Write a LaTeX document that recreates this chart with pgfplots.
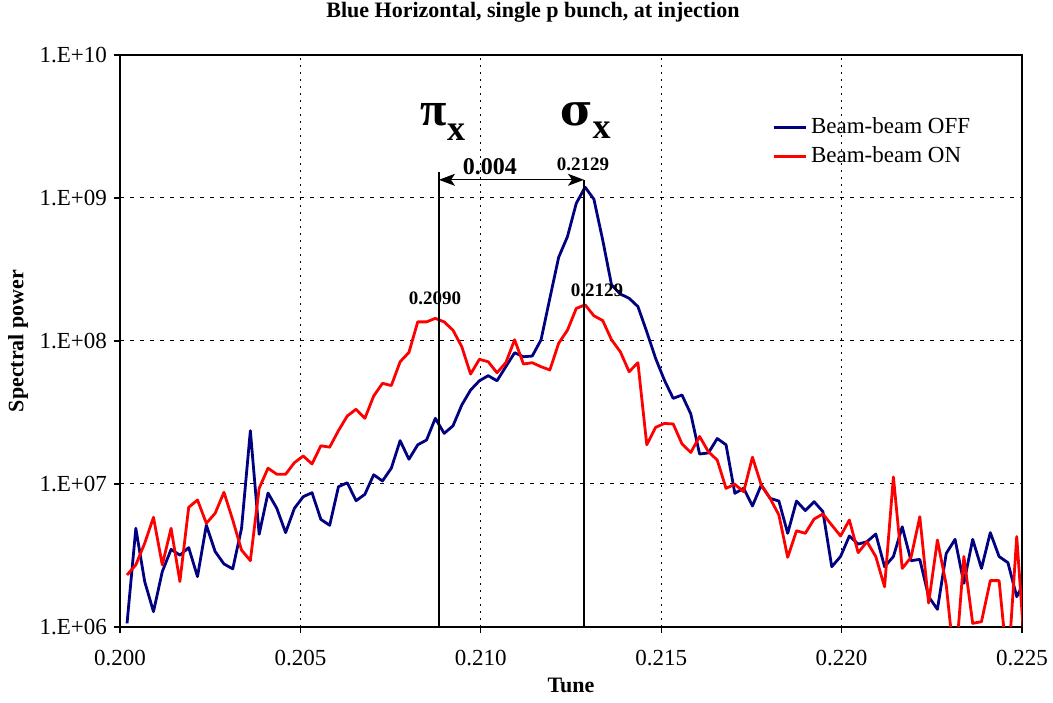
\documentclass[border=0pt]{standalone}
\usepackage{pgfplots}
\pgfplotsset{compat=1.18}
\usepackage{pgfplotstable}
\usepackage{fontspec}
\setmainfont{Liberation Serif}
\newfontfamily\greekfont{DejaVu Serif}
\usetikzlibrary{arrows.meta}
\definecolor{navyblue}{RGB}{0,0,128}
\definecolor{pureRed}{RGB}{255,0,0}

\pgfplotstableread{
x off on
0.200195 1.06e6 2.31e6
0.200439 4.90e6 2.72e6
0.200684 2.08e6 3.85e6
0.200928 1.28e6 5.85e6
0.201172 2.44e6 2.72e6
0.201416 3.49e6 4.90e6
0.201660 3.18e6 2.08e6
0.201904 3.59e6 6.87e6
0.202148 2.25e6 7.73e6
0.202393 5.16e6 5.31e6
0.202637 3.37e6 6.24e6
0.202881 2.76e6 8.75e6
0.203125 2.55e6 5.60e6
0.203369 4.90e6 3.45e6
0.203613 2.36e7 2.91e6
0.203857 4.45e6 9.33e6
0.204102 8.65e6 1.29e7
0.204346 6.76e6 1.17e7
0.204590 4.57e6 1.17e7
0.204834 6.76e6 1.41e7
0.205078 8.15e6 1.57e7
0.205322 8.69e6 1.38e7
0.205566 5.66e6 1.85e7
0.205811 5.14e6 1.81e7
0.206055 9.57e6 2.36e7
0.206299 1.02e7 2.99e7
0.206543 7.64e6 3.33e7
0.206787 8.47e6 2.88e7
0.207031 1.16e7 4.12e7
0.207275 1.05e7 5.06e7
0.207520 1.29e7 4.88e7
0.207764 2.01e7 7.16e7
0.208008 1.49e7 8.32e7
0.208252 1.88e7 1.36e8
0.208496 2.03e7 1.36e8
0.208740 2.88e7 1.44e8
0.208984 2.26e7 1.36e8
0.209229 2.55e7 1.19e8
0.209473 3.57e7 9.12e7
0.209717 4.54e7 5.87e7
0.209961 5.27e7 7.45e7
0.210205 5.72e7 7.16e7
0.210449 5.27e7 6.00e7
0.210693 6.61e7 7.05e7
0.210938 8.28e7 1.02e8
0.211182 7.76e7 6.90e7
0.211426 7.85e7 7.05e7
0.211670 1.02e8 6.61e7
0.211914 1.99e8 6.27e7
0.212158 3.85e8 9.64e7
0.212402 5.37e8 1.19e8
0.212646 9.18e8 1.69e8
0.212891 1.19e9 1.79e8
0.213135 9.80e8 1.50e8
0.213379 5.08e8 1.39e8
0.213623 2.47e8 1.02e8
0.213867 2.13e8 8.41e7
0.214111 1.99e8 6.10e7
0.214355 1.74e8 7.05e7
0.214600 1.16e8 1.88e7
0.214844 7.57e7 2.49e7
0.215088 5.33e7 2.65e7
0.215332 3.97e7 2.63e7
0.215576 4.19e7 1.91e7
0.215820 3.09e7 1.66e7
0.216064 1.62e7 2.15e7
0.216309 1.65e7 1.68e7
0.216553 2.08e7 1.47e7
0.216797 1.88e7 9.33e6
0.217041 8.61e6 9.95e6
0.217285 9.33e6 8.83e6
0.217529 7.02e6 1.54e7
0.217773 9.84e6 9.84e6
0.218018 7.94e6 7.94e6
0.218262 7.60e6 6.07e6
0.218506 4.52e6 3.07e6
0.218750 7.60e6 4.71e6
0.218994 6.52e6 4.52e6
0.219238 7.52e6 5.69e6
0.219482 6.41e6 6.17e6
0.219727 2.64e6 5.16e6
0.219971 3.11e6 4.33e6
0.220215 4.33e6 5.60e6
0.220459 3.80e6 3.31e6
0.220703 3.95e6 3.95e6
0.220947 4.47e6 3.11e6
0.221191 2.64e6 1.91e6
0.221436 3.11e6 1.12e7
0.221680 5.02e6 2.57e6
0.221924 2.91e6 3.07e6
0.222168 2.97e6 5.90e6
0.222412 1.63e6 1.47e6
0.222656 1.33e6 4.06e6
0.222900 3.27e6 1.97e6
0.223145 4.10e6 5.0e5
0.223389 2.02e6 3.11e6
0.223633 4.10e6 1.06e6
0.223877 2.57e6 1.09e6
0.224121 4.57e6 2.11e6
0.224365 3.11e6 2.11e6
0.224609 2.82e6 5.0e5
0.224854 1.63e6 4.29e6
0.225098 2.15e6 5.6e5
}\datatable

\begin{document}
\begin{tikzpicture}
\useasboundingbox (-60pt,-37.5pt) rectangle (466.5pt,313.5pt);
\begin{axis}[
  at={(0,0)}, anchor=south west,
  scale only axis, width=451pt, height=286pt,
  xmin=0.2, xmax=0.225, ymin=1e6, ymax=1e10,
  ymode=log,
  xtick={0.200,0.205,0.210,0.215,0.220,0.225},
  xticklabels={0.200,0.205,0.210,0.215,0.220,0.225},
  ytick={1e6,1e7,1e8,1e9,1e10},
  yticklabels={1.E+06,1.E+07,1.E+08,1.E+09,1.E+10},
  yminorticks=false, xminorticks=false,
  tick align=outside, tick pos=left,
  major tick length=3pt,
  tick style={black, line width=0.6pt},
  ticklabel style={font=\fontsize{11.5}{13}\selectfont},
  xticklabel style={yshift=-5pt},
  grid=major,
  major x grid style={black, line width=0.5pt, dash pattern=on 1pt off 2.5pt},
  major y grid style={black, line width=0.5pt, dash pattern=on 2pt off 3pt},
  axis line style={black, line width=0.9pt},
  clip=true,
  legend style={draw=none, fill=none, at={(0.716,0.905)}, anchor=north west,
    font=\fontsize{11.5}{13}\selectfont, row sep=1pt,
    legend cell align=left},
  legend image code/.code={\draw[#1] (0pt,0pt) -- (16pt,0pt);},
]
\addplot[navyblue, line width=1.4pt, line join=round] table[x=x, y=off] {\datatable};
\addlegendentry{Beam-beam OFF}
\addplot[pureRed, line width=1.4pt, line join=round] table[x=x, y=on] {\datatable};
\addlegendentry{Beam-beam ON}

% annotation lines
\draw[black, line width=0.6pt] (axis cs:0.20884,1e6) -- (axis cs:0.20884,1.51e9);
\draw[black, line width=0.6pt] (axis cs:0.21286,1e6) -- (axis cs:0.21286,1.34e9);
\draw[black, line width=0.6pt, {Stealth[length=8pt,width=6pt,inset=2pt]}-{Stealth[length=8pt,width=6pt,inset=2pt]}]
  (axis cs:0.20884,1.34e9) -- (axis cs:0.21286,1.34e9);
\node[font=\fontsize{12}{14}\selectfont\bfseries, anchor=base] at (axis cs:0.21025,1.45e9) {0.004};
\node[font=\fontsize{9.5}{11}\selectfont\bfseries, anchor=base] at (axis cs:0.21283,1.56e9) {0.2129};
\node[font=\fontsize{9.5}{11}\selectfont\bfseries, anchor=base] at (axis cs:0.21322,2.05e8) {0.2129};
\node[font=\fontsize{9.5}{11}\selectfont\bfseries, anchor=base] at (axis cs:0.20873,1.8e8) {0.2090};
\node[font=\fontsize{24}{28}\selectfont\bfseries, anchor=base] at (axis cs:0.20895,3.2e9) {π\raisebox{-0.3em}{\fontsize{18}{20}\selectfont x}};
\node[font=\fontsize{22}{26}\selectfont\bfseries, anchor=base] at (axis cs:0.2129,3.2e9) {{\greekfont σ}\raisebox{-0.3em}{\fontsize{18}{20}\selectfont x}};
\end{axis}
\node[font=\fontsize{11}{13}\selectfont\bfseries, rotate=90] at (-51pt,143pt) {Spectral power};
\node[font=\fontsize{11}{13}\selectfont\bfseries] at (225.5pt,-29pt) {Tune};
\node[font=\fontsize{11}{13}\selectfont\bfseries] at (206.5pt,307.5pt) {Blue Horizontal, single p bunch, at injection};
\end{tikzpicture}
\end{document}
